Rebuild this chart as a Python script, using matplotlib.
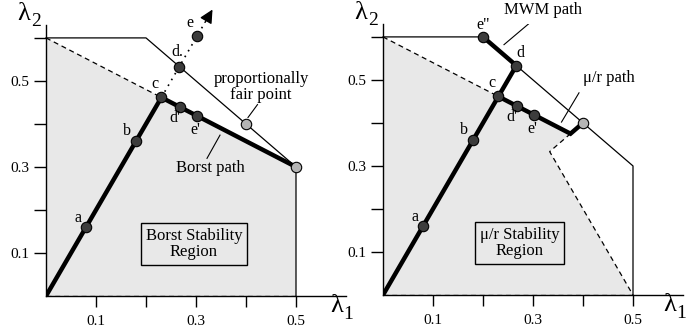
import numpy as np
import matplotlib
matplotlib.use("Agg")
from matplotlib import pyplot as plt

plt.rcParams["font.family"] = ["Liberation Serif", "DejaVu Serif"]

# capacity region (outer solid boundary)
outer_x = [0.0, 0.2, 0.5, 0.5]
outer_y = [0.6, 0.6, 0.3, 0.0]

# Borst stability region
borst_x = [0.0, 0.0, 0.5, 0.5]
borst_y = [0.0, 0.6, 0.3, 0.0]

# mu/r stability region
mur_x = [0.0, 0.0, 0.375, 1 / 3, 0.5]
mur_y = [0.0, 0.6, 0.375, 1 / 3, 0.0]

# named points
c = (3 / 13, 6 / 13)
pt_a = (0.08, 0.16)
pt_b = (0.18, 0.36)
pt_d = (0.8 / 3, 1.6 / 3)
pt_e = (0.302, 0.604)
pt_d1 = (0.268, 0.4392)
pt_e1 = (0.302, 0.4188)
pt_e2 = (0.2, 0.6)
fair = (0.4, 0.4)
borst_end = (0.5, 0.3)
mur_corner = (0.375, 0.375)
arrow_base = (0.318, 0.636)
arrow_tip = (0.333, 0.666)

ticks = [0.1, 0.2, 0.3, 0.4, 0.5]
tick_labels = ["0.1", "", "0.3", "", "0.5"]
yticks = [0.1, 0.2, 0.3, 0.4, 0.5, 0.6]
ytick_labels = ["0.1", "", "0.3", "", "0.5", ""]

DARK = "#3c3c3c"
LIGHT = "#b4b4b4"
FILL = "#e8e8e8"


def setup_axes(ax, x_lam1):
    ax.set_xlim(0, 0.6)
    ax.set_ylim(0, 0.63)
    for s in ["top", "right"]:
        ax.spines[s].set_visible(False)
    for s in ["left", "bottom"]:
        ax.spines[s].set_linewidth(1.0)
        ax.spines[s].set_zorder(1)
    ax.set_xticks(ticks)
    ax.set_xticklabels(tick_labels, fontsize=11)
    ax.set_yticks(yticks)
    ax.set_yticklabels(ytick_labels, fontsize=11)
    ax.tick_params(axis="x", length=8, width=1, pad=6)
    ax.tick_params(axis="y", length=9, width=1, pad=3)
    ax.patch.set_visible(False)
    # axis names: upright lambda with subscript
    ax.text(-0.044, 0.656, "\u03bb", fontsize=19, ha="center", va="center",
            clip_on=False)
    ax.text(-0.019, 0.638, "2", fontsize=14, ha="center", va="center",
            clip_on=False)
    ax.text(x_lam1, -0.024, "\u03bb", fontsize=19, ha="center", va="center",
            clip_on=False)
    ax.text(x_lam1 + 0.022, -0.042, "1", fontsize=14, ha="center", va="center",
            clip_on=False)


def dot(ax, p, color=DARK):
    ax.plot(p[0], p[1], "o", ms=7.5, mfc=color, mec="black", mew=0.8, zorder=6,
            clip_on=False)


def label(ax, p, s, fs=11.5):
    ax.text(p[0], p[1], s, fontsize=fs, ha="center", va="center", zorder=7,
            clip_on=False)


fig = plt.figure(figsize=(6.86, 3.3), dpi=100)
ax1 = fig.add_axes([46 / 686, 34 / 330, 300 / 686, 271 / 330])
ax2 = fig.add_axes([383 / 686, 35 / 330, 300 / 686, 271 / 330])

# ---- left panel: Borst
setup_axes(ax1, 0.582)
ax1.fill(borst_x, borst_y, color=FILL, lw=0, zorder=0)
ax1.plot([0, c[0]], [0.6, c[1]], "k--", lw=0.9, dashes=(4, 3))
ax1.plot([0, 0.5], [0, 0], "k--", lw=0.9, dashes=(4, 3), zorder=2)
ax1.plot(outer_x, outer_y, "k-", lw=0.9, clip_on=False)
ax1.plot([0, c[0], borst_end[0]], [0, c[1], borst_end[1]], "k-", lw=3.2,
         solid_joinstyle="miter", zorder=4)
ax1.plot([c[0], arrow_base[0]], [c[1], arrow_base[1]], color="black",
         ls=(0, (1, 3)), lw=1.2, clip_on=False)
ax1.annotate("", xy=arrow_tip, xytext=arrow_base,
             arrowprops=dict(arrowstyle="-|>", color="black", lw=1,
                             shrinkA=0, shrinkB=0, mutation_scale=20),
             annotation_clip=False)
for p in [pt_a, pt_b, c, pt_d, pt_e, pt_d1, pt_e1]:
    dot(ax1, p)
dot(ax1, fair, LIGHT)
dot(ax1, borst_end, LIGHT)
label(ax1, (0.064, 0.182), "a")
label(ax1, (0.162, 0.383), "b")
label(ax1, (0.218, 0.492), "c")
label(ax1, (0.262, 0.568), "d.")
label(ax1, (0.288, 0.634), "e")
label(ax1, (0.258, 0.413), "d'")
label(ax1, (0.298, 0.387), "e'")
ax1.text(0.43, 0.485, "proportionally\nfair point", fontsize=12, ha="center",
         va="center", linespacing=1.0)
ax1.plot([0.423, 0.404], [0.445, 0.415], "k-", lw=0.8)
ax1.text(0.328, 0.297, "Borst path", fontsize=12, ha="center", va="center")
ax1.plot([0.322, 0.348], [0.32, 0.374], "k-", lw=0.8)
ax1.text(0.296, 0.12, "Borst Stability\nRegion", fontsize=12, ha="center",
         va="center", linespacing=1.0,
         bbox=dict(boxstyle="square,pad=0.3", fc=FILL, ec="black", lw=1))

# ---- right panel: mu/r and MWM
setup_axes(ax2, 0.574)
ax2.fill(mur_x, mur_y, color=FILL, lw=0, zorder=0)
ax2.plot([0, c[0]], [0.6, c[1]], "k--", lw=0.9, dashes=(4, 3))
ax2.plot(mur_x[2:], mur_y[2:], "k--", lw=0.9, dashes=(4, 3))
ax2.plot([0, 0.5], [0, 0], "k--", lw=0.9, dashes=(4, 3), zorder=2)
ax2.plot(outer_x, outer_y, "k-", lw=0.9, clip_on=False)
ax2.plot([0, c[0], pt_d[0], pt_e2[0]], [0, c[1], pt_d[1], pt_e2[1]], "k-",
         lw=3.2, solid_joinstyle="miter", zorder=4)
ax2.plot([c[0], mur_corner[0], fair[0]], [c[1], mur_corner[1], fair[1]], "k-",
         lw=3.2, solid_joinstyle="miter", zorder=4)
for p in [pt_a, pt_b, c, pt_d, pt_d1, pt_e1, pt_e2]:
    dot(ax2, p)
dot(ax2, fair, LIGHT)
label(ax2, (0.064, 0.182), "a")
label(ax2, (0.162, 0.383), "b")
label(ax2, (0.218, 0.492), "c")
label(ax2, (0.274, 0.562), "d")
label(ax2, (0.258, 0.413), "d'")
label(ax2, (0.298, 0.387), "e'")
label(ax2, (0.2, 0.627), "e\"")
ax2.text(0.32, 0.663, "MWM path", fontsize=12, ha="center", va="center",
         clip_on=False)
ax2.plot([0.297, 0.242], [0.636, 0.582], "k-", lw=0.8)
ax2.text(0.452, 0.505, "\u03bc/r path", fontsize=12, ha="center", va="center")
ax2.plot([0.392, 0.357], [0.47, 0.402], "k-", lw=0.8)
ax2.text(0.273, 0.12, "\u03bc/r Stability\nRegion", fontsize=12, ha="center",
         va="center", linespacing=1.0,
         bbox=dict(boxstyle="square,pad=0.3", fc=FILL, ec="black", lw=1))

fig.savefig("out.png", dpi=100)
